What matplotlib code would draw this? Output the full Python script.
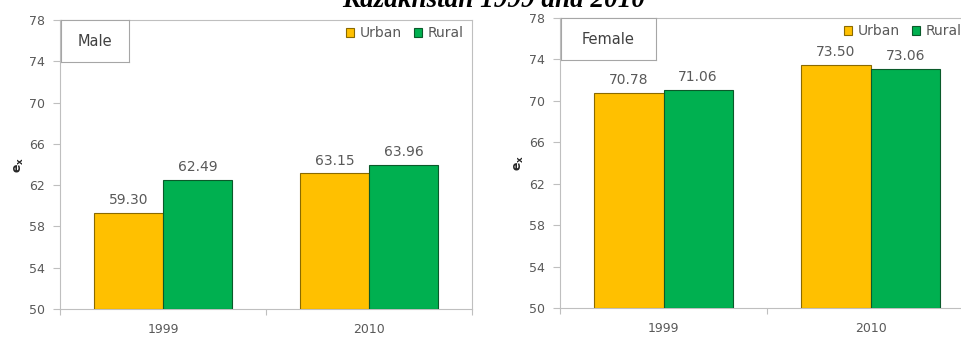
import matplotlib.pyplot as plt
import numpy as np

years = ["1999", "2010"]
series = ["Urban", "Rural"]
male_urban = [59.30, 63.15]
male_rural = [62.49, 63.96]
female_urban = [70.78, 73.50]
female_rural = [71.06, 73.06]
yticks = [50, 54, 58, 62, 66, 70, 74, 78]

W, H = 962, 343
fig = plt.figure(figsize=(W / 100, H / 100), dpi=100)
fig.patch.set_facecolor("white")

fill = {"Urban": "#FFC000", "Rural": "#00B050"}
edge = {"Urban": "#8A6A00", "Rural": "#0A5A2A"}
grey = "#595959"
frame = "#BFBFBF"


def panel(rect, urban, rural, label, box_w, leg_right):
    l, t, r, b = rect
    ax = fig.add_axes([l / W, 1 - b / H, (r - l) / W, (b - t) / H])
    x = np.arange(len(years))
    w = 0.335
    ax.bar(x - w / 2, [v - 50 for v in urban], w, bottom=50, color=fill["Urban"],
           edgecolor=edge["Urban"], linewidth=0.8, label="Urban", zorder=3)
    ax.bar(x + w / 2, [v - 50 for v in rural], w, bottom=50, color=fill["Rural"],
           edgecolor=edge["Rural"], linewidth=0.8, label="Rural", zorder=3)
    for xi, v in zip(x - w / 2, urban):
        ax.text(xi, v + 0.55, f"{v:.2f}", ha="center", va="bottom", fontsize=10, color=grey)
    for xi, v in zip(x + w / 2, rural):
        ax.text(xi, v + 0.55, f"{v:.2f}", ha="center", va="bottom", fontsize=10, color=grey)
    ax.set_xlim(-0.5, 1.5)
    ax.set_ylim(50, 78)
    ax.set_yticks(yticks)
    ax.set_yticklabels([str(t) for t in yticks], fontsize=9, color=grey)
    ax.set_xticks(x)
    ax.set_xticklabels(years, fontsize=9, color=grey)
    ax.set_xticks([-0.5, 0.5, 1.5], minor=True)
    ax.tick_params(axis="x", which="major", length=0, pad=10)
    ax.tick_params(axis="x", which="minor", length=4, color=frame, width=0.8)
    ax.tick_params(axis="y", length=5, color=frame, width=0.8, pad=6)
    for s in ax.spines.values():
        s.set_color(frame)
        s.set_linewidth(0.8)
    ax.set_ylabel(r"$\mathbf{e_x}$", fontsize=9, color="#262626", labelpad=2)
    # series label box in the upper-left corner
    bx = fig.add_axes([(l + 1) / W, 1 - (t + 42) / H, box_w / W, 42 / H])
    bx.set_xticks([]); bx.set_yticks([])
    for s in bx.spines.values():
        s.set_color("#A6A6A6"); s.set_linewidth(0.8)
    bx.text(0.5, 0.5, label, ha="center", va="center", fontsize=10.5, color="#404040",
            transform=bx.transAxes)
    leg = ax.legend(loc="upper right", bbox_to_anchor=(leg_right / W, 1 - (t + 6) / H),
                    bbox_transform=fig.transFigure, ncol=2, frameon=False, fontsize=10,
                    handlelength=0.6, handleheight=0.6, columnspacing=0.9,
                    handletextpad=0.4, borderaxespad=0.0, borderpad=0.0)
    for txt in leg.get_texts():
        txt.set_color(grey)
    return ax


panel((60, 20, 472, 309), male_urban, male_rural, "Male", 68, 464)
panel((560, 18, 974, 308), female_urban, female_rural, "Female", 95, 962)

fig.text(494 / W, 1 - 7 / H, "Kazakhstan 1999 and 2010", ha="center", va="baseline",
         fontsize=19.5, fontweight="bold", fontstyle="italic", family="Liberation Serif")

fig.savefig("out.png", dpi=100)
